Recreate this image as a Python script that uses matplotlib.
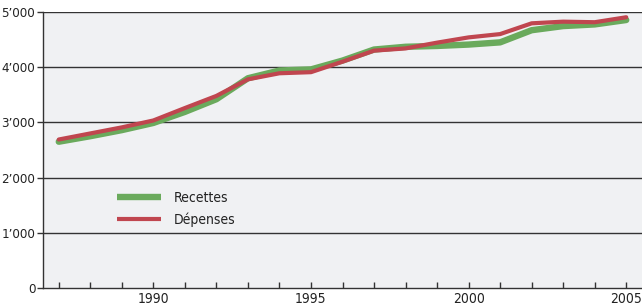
import matplotlib.pyplot as plt
from matplotlib.lines import Line2D
from matplotlib.ticker import FuncFormatter, MultipleLocator

# Data
years = list(range(1987, 2006))
recettes = [2650, 2750, 2860, 2990, 3190, 3420, 3800, 3940, 3960, 4120,
            4320, 4370, 4385, 4410, 4450, 4670, 4745, 4775, 4855]
depenses = [2690, 2800, 2910, 3035, 3260, 3480, 3780, 3890, 3910, 4100,
            4300, 4340, 4445, 4540, 4600, 4795, 4825, 4815, 4905]

plt.rcParams['font.family'] = ['DejaVu Sans']
plt.rcParams['font.stretch'] = 'condensed'

green = '#6aaa5c'
red = '#c0464f'

fig = plt.figure(figsize=(6.42, 3.07), dpi=100)
ax = fig.add_axes([43 / 642, 1 - 288 / 307, 1 - 43 / 642, (288 - 12) / 307])
ax.set_facecolor('#f0f1f3')

for v in range(1000, 6000, 1000):
    ax.axhline(v, color='#333333', lw=1, zorder=1)

ax.plot(years, recettes, color=green, lw=4.6, solid_capstyle='round', zorder=3)
ax.plot(years, depenses, color=red, lw=3.0, solid_capstyle='round', zorder=4)

ax.set_xlim(1986.5, 2005.5)
ax.set_ylim(0, 5000)

ax.xaxis.set_major_locator(MultipleLocator(5))
ax.xaxis.set_minor_locator(MultipleLocator(1))
ax.yaxis.set_major_locator(MultipleLocator(1000))
ax.yaxis.set_major_formatter(FuncFormatter(
    lambda v, p: '0' if v == 0 else f"{int(v) // 1000}\u2019{int(v) % 1000:03d}"))

ax.tick_params(axis='x', which='both', direction='in', length=4, width=1,
               color='#333333', labelsize=10, labelcolor='#222222', pad=3)
ax.tick_params(axis='y', direction='out', length=4, width=1,
               color='#333333', labelsize=9.5, labelcolor='#222222', pad=1.5)

for s in ['top', 'right']:
    ax.spines[s].set_visible(False)
for s in ['left', 'bottom']:
    ax.spines[s].set_color('#333333')
    ax.spines[s].set_linewidth(1)

handles = [Line2D([], [], color=green, lw=4.6, solid_capstyle='butt'),
           Line2D([], [], color=red, lw=3.0, solid_capstyle='butt')]
ax.legend(handles, ['Recettes', 'Dépenses'], loc='upper left',
          bbox_to_anchor=(104 / 642, 1 - 178 / 307),
          bbox_transform=fig.transFigure, frameon=False, fontsize=10,
          labelcolor='#222222', handlelength=3.2, handletextpad=0.9,
          labelspacing=0.55)

fig.savefig('out.png', dpi=100)
